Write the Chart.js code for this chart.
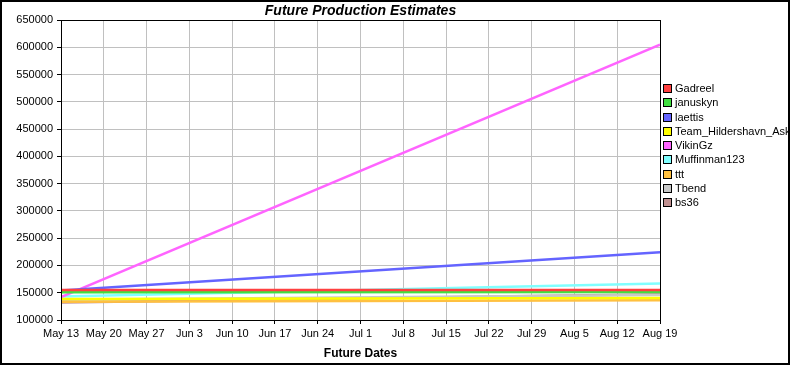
<!DOCTYPE html>
<html>
<head>
<meta charset="utf-8">
<script src="https://cdn.jsdelivr.net/npm/chart.js@4"></script>
<style>
  html, body { margin: 0; padding: 0; background: #fff; }
  #wrap { width: 790px; height: 365px; }
</style>
</head>
<body>
<div id="wrap"><canvas id="chart" width="790" height="365"></canvas></div>
<script>
/* Future Production Estimates — straight-line projections per player */

const dateTicks = ["May 13", "May 20", "May 27", "Jun 3", "Jun 10", "Jun 17", "Jun 24",
  "Jul 1", "Jul 8", "Jul 15", "Jul 22", "Jul 29", "Aug 5", "Aug 12", "Aug 19"];
const lastDay = 98; // days from May 13 to Aug 19

const players = ["Gadreel", "januskyn", "laettis", "Team_Hildershavn_Ask", "VikinGz",
  "Muffinman123", "ttt", "Tbend", "bs36"];
const startValues = [155000, 151000, 154000, 138500, 142000, 143000, 133500, 137000, 132000];
const endValues = [155000, 151500, 224000, 140500, 605000, 167000, 136000, 146000, 147000];

const colors = ["#ff4040", "#40e040", "#6464ff", "#ffff00", "#ff64ff", "#80ffff", "#ffc040", "#c8c8c8", "#c09090"];

const FONT = "'Liberation Sans', Arial, sans-serif";
const AREA = { left: 61, top: 20, right: 660, bottom: 320 };

const datasets = players.map((name, i) => ({
  label: name,
  data: [{ x: 0, y: startValues[i] }, { x: lastDay, y: endValues[i] }],
  borderColor: colors[i],
  backgroundColor: colors[i],
  borderWidth: 2.5,
  pointRadius: 0,
  tension: 0,
}));

const frame = {
  id: "frame",
  beforeDraw(c) {
    const ctx = c.ctx;
    ctx.save();
    ctx.fillStyle = "#fff";
    ctx.fillRect(0, 0, c.width, c.height);
    ctx.restore();
  },
  afterDraw(c) {
    const ctx = c.ctx;
    const a = c.chartArea;
    ctx.save();
    // plot box
    ctx.strokeStyle = "#000";
    ctx.lineWidth = 1;
    ctx.strokeRect(a.left + 0.5, a.top + 0.5, a.right - a.left, a.bottom - a.top);
    // outer border
    ctx.lineWidth = 2;
    ctx.strokeRect(1, 1, c.width - 2, c.height - 2);
    // title centred on plot
    ctx.fillStyle = "#000";
    ctx.font = "italic bold 14px " + FONT;
    ctx.textAlign = "center";
    ctx.textBaseline = "alphabetic";
    ctx.fillText("Future Production Estimates", (a.left + a.right) / 2, 15);
    // legend
    ctx.font = "11px " + FONT;
    ctx.textAlign = "left";
    ctx.textBaseline = "middle";
    c.data.datasets.forEach((d, i) => {
      const y = Math.round(88 + i * 14.25);
      ctx.fillStyle = d.borderColor;
      ctx.fillRect(663, y - 4, 8, 8);
      ctx.strokeStyle = "#000";
      ctx.lineWidth = 1;
      ctx.strokeRect(663.5, y - 3.5, 8, 8);
      ctx.fillStyle = "#000";
      ctx.fillText(d.label, 675, y + 0.5);
    });
    ctx.restore();
  },
};

new Chart(document.getElementById("chart"), {
  type: "line",
  data: { datasets },
  options: {
    responsive: false,
    animation: false,
    layout: { padding: { left: 0, top: AREA.top, right: 790 - AREA.right, bottom: 0 } },
    plugins: { legend: { display: false }, title: { display: false }, tooltip: { enabled: false } },
    scales: {
      x: {
        type: "linear",
        min: 0,
        max: lastDay,
        afterBuildTicks: (s) => { s.ticks = dateTicks.map((_, i) => ({ value: i * 7 })); },
        afterFit: (s) => { s.height = 365 - AREA.bottom; },
        ticks: {
          color: "#000",
          font: { family: FONT, size: 11 },
          padding: 3,
          maxRotation: 0,
          autoSkip: false,
          callback: (v) => dateTicks[Math.round(v / 7)],
        },
        grid: { color: "#c0c0c0", tickColor: "#000", tickLength: 4 },
        border: { color: "#000" },
        title: {
          display: true,
          text: "Future Dates",
          color: "#000",
          font: { family: FONT, size: 12, weight: "bold" },
          padding: { top: 2 },
        },
      },
      y: {
        min: 100000,
        max: 650000,
        afterFit: (s) => { s.width = AREA.left; },
        ticks: {
          stepSize: 50000,
          color: "#000",
          font: { family: FONT, size: 11 },
          padding: 4,
          callback: (v) => String(v),
        },
        grid: { color: "#c0c0c0", tickColor: "#000", tickLength: 4 },
        border: { color: "#000" },
      },
    },
  },
  plugins: [frame],
});
</script>
</body>
</html>
